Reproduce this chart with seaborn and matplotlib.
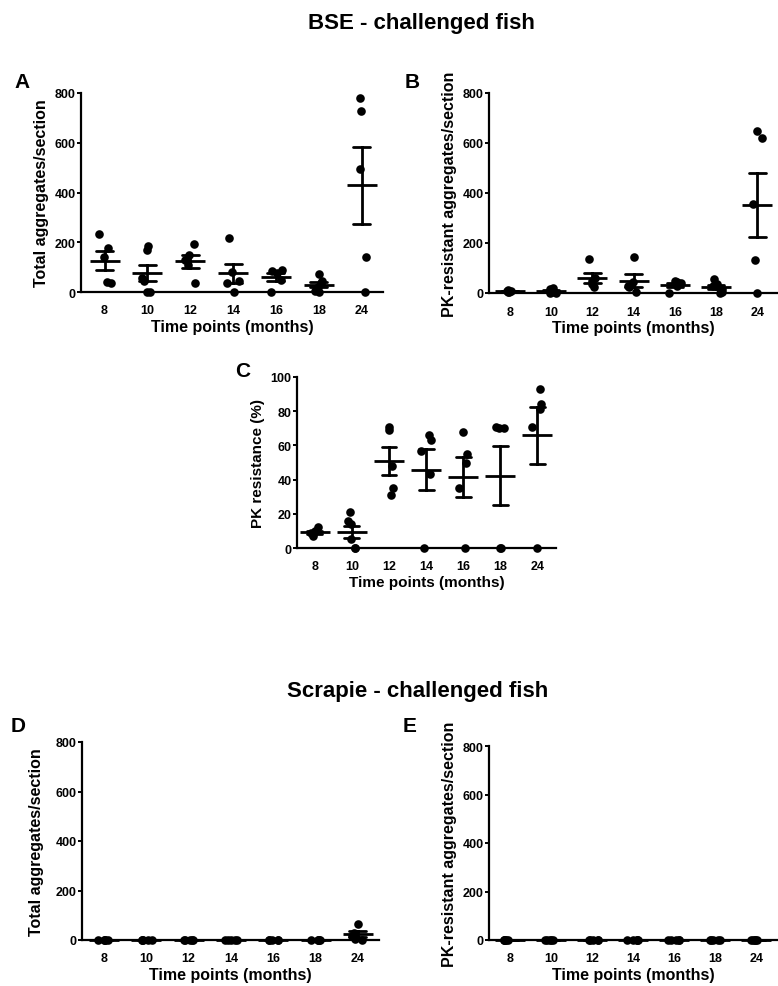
import warnings
import numpy as np
import pandas as pd
import seaborn as sns
import matplotlib.pyplot as plt

warnings.filterwarnings("ignore")
np.random.seed(7)  # fixed jitter of the dots

# ---- Data ----
months = [8, 10, 12, 14, 16, 18, 24]

# BSE - total aggregates per section
bse_total = [
    [235, 175, 140, 42, 38],
    [186, 168, 55, 45, 2, 0],
    [193, 150, 130, 110, 35],
    [218, 80, 45, 35, 0],
    [88, 85, 75, 50, 0],
    [72, 45, 35, 20, 5, 0],
    [780, 728, 495, 140, 0],
]

# BSE - PK-resistant aggregates per section
bse_pk = [
    [14, 10, 8, 5, 3],
    [22, 16, 10, 5, 2, 0],
    [137, 60, 48, 35, 25],
    [145, 45, 30, 25, 5],
    [50, 45, 40, 30, 0],
    [55, 35, 30, 15, 5, 0],
    [650, 620, 357, 133, 0],
]

# BSE - PK resistance (%)
bse_pct = [
    [12, 10, 9, 8, 7],
    [21, 16, 14, 5, 0, 0],
    [71, 69, 48, 35, 31],
    [66, 63, 57, 43, 0],
    [68, 55, 50, 35, 0],
    [71, 70, 70, 0, 0],
    [93, 84, 81, 71, 0],
]

# Scrapie - total aggregates per section
scr_total = [
    [0, 0, 0, 0, 0],
    [0, 0, 0, 0, 0],
    [0, 0, 0, 0, 0],
    [0, 0, 0, 0, 0],
    [0, 0, 0, 0, 0],
    [0, 0, 0, 0, 0],
    [65, 30, 15, 5, 0],
]

# Scrapie - PK-resistant aggregates per section
scr_pk = [
    [0, 0, 0, 0, 0],
    [0, 0, 0, 0, 0],
    [0, 0, 0, 0, 0],
    [0, 0, 0, 0, 0],
    [0, 0, 0, 0, 0],
    [0, 0, 0, 0, 0],
    [0, 0, 0, 0, 0],
]

sns.set_style("white")
plt.rcParams['font.family'] = ['Liberation Sans', 'DejaVu Sans']
plt.rcParams['font.weight'] = 'bold'
for k in ['text.color', 'axes.labelcolor', 'xtick.color', 'ytick.color']:
    plt.rcParams[k] = 'black'

W, H = 778, 987
fig = plt.figure(figsize=(W / 100, H / 100), dpi=100)


def to_long(groups):
    rows = []
    for m, vals in zip(months, groups):
        for v in vals:
            rows.append({'month': str(m), 'value': v})
    return pd.DataFrame(rows)


def panel(x0, x1, ytop, ybot, groups, ylabel, ymax, yticks, xlo, xhi, fs=11.5, lpad=4):
    ax = fig.add_axes([x0 / W, 1 - ybot / H, (x1 - x0) / W, (ybot - ytop) / H])
    df = to_long(groups)
    order = [str(m) for m in months]
    sns.stripplot(data=df, x='month', y='value', order=order, color='black',
                  size=6.2, jitter=0.15, ax=ax, clip_on=False, zorder=3)
    sns.pointplot(data=df, x='month', y='value', order=order, errorbar='se',
                  capsize=0.4, linestyle='none', marker='_', markersize=22,
                  markeredgewidth=2, color='black',
                  err_kws={'linewidth': 2}, ax=ax)
    for ln in ax.lines:
        ln.set_clip_on(False)
        ln.set_zorder(4)
    ax.set_xlim(xlo, xhi)
    ax.set_ylim(0, ymax)
    ax.set_yticks(yticks)
    ax.set_yticklabels([str(t) for t in yticks])
    for s in ['top', 'right']:
        ax.spines[s].set_visible(False)
    for s in ['left', 'bottom']:
        ax.spines[s].set_linewidth(1.6)
        ax.spines[s].set_color('black')
    ax.tick_params(axis='y', length=3, width=1.4, pad=1, labelsize=9, left=True)
    ax.tick_params(axis='x', length=0, pad=9, labelsize=9)
    for lab in ax.get_xticklabels() + ax.get_yticklabels():
        lab.set_fontweight('bold')
    ax.set_xlabel('Time points (months)', fontsize=fs, fontweight='bold', labelpad=2)
    ax.set_ylabel(ylabel, fontsize=fs, fontweight='bold', labelpad=lpad)
    return ax


panel(81, 383, 94, 293, bse_total, 'Total aggregates/section', 800, [0, 200, 400, 600, 800], -0.55, 6.5)
panel(489, 778, 94, 294, bse_pk, 'PK-resistant aggregates/section', 800, [0, 200, 400, 600, 800], -0.51, 6.5)
panel(297, 556, 378, 549, bse_pct, 'PK resistance (%)', 100, [0, 20, 40, 60, 80, 100], -0.48, 6.5, fs=11)
panel(82, 379, 743, 941, scr_total, 'Total aggregates/section', 800, [0, 200, 400, 600, 800], -0.52, 6.5, lpad=8)
panel(489, 777, 747, 941, scr_pk, 'PK-resistant aggregates/section', 800, [0, 200, 400, 600, 800], -0.51, 6.5)

fig.text(421 / W, 1 - 23 / H, 'BSE - challenged fish', ha='center', va='center', fontsize=16, fontweight='bold')
fig.text(418 / W, 1 - 692 / H, 'Scrapie - challenged fish', ha='center', va='center', fontsize=16, fontweight='bold')

for letter, (lx, ly) in {'A': (22, 82), 'B': (412, 82), 'C': (243, 372), 'D': (18, 727), 'E': (410, 727)}.items():
    fig.text(lx / W, 1 - ly / H, letter, ha='center', va='center', fontsize=15, fontweight='bold')

fig.savefig('out.png', dpi=100)
